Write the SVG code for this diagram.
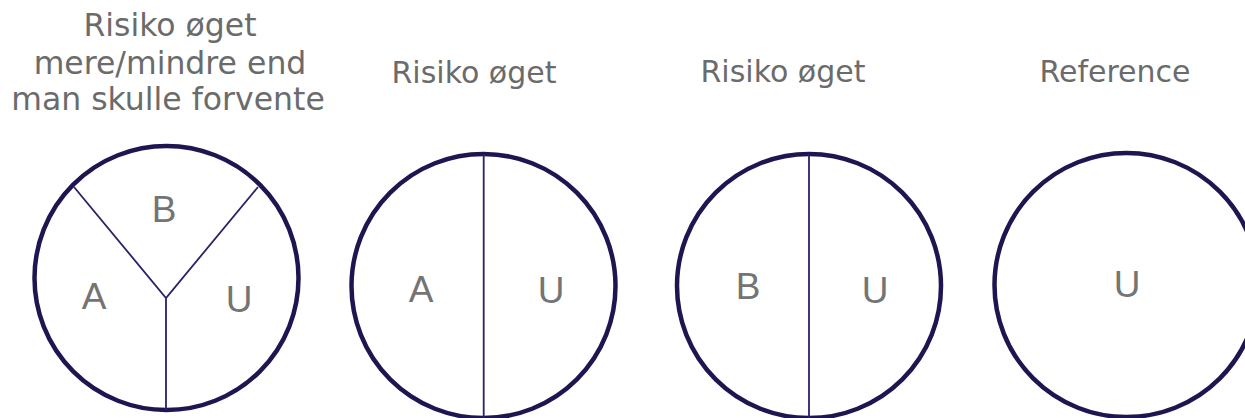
<svg xmlns="http://www.w3.org/2000/svg" width="1245" height="418" viewBox="0 0 1245 418">
<style>
.title{font-family:"DejaVu Sans",Verdana,sans-serif;font-size:30px;fill:#6b6b6b;text-anchor:middle}
.big{font-size:31.5px}
.lbl{font-family:"Liberation Sans",Arial,sans-serif;font-size:37px;fill:#747474;text-anchor:middle}
.ring{fill:#fff;stroke:#1e1650;stroke-width:4.5}
.div{stroke:#2a2266;stroke-width:1.8;fill:none}
</style>
<rect width="1245" height="418" fill="#fff"/>
<g id="t1">
<text class="title big" x="170" y="36">Risiko øget</text>
<text class="title big" x="170" y="74">mere/mindre end</text>
<text class="title big" x="168" y="110">man skulle forvente</text>
</g>
<g id="t2"><text class="title" x="474" y="83">Risiko øget</text></g>
<g id="t3"><text class="title" x="783" y="82">Risiko øget</text></g>
<g id="t4"><text class="title" x="1115" y="82">Reference</text></g>
<g id="c1">
<circle class="ring" cx="166.5" cy="278" r="132"/>
<text class="lbl" x="164" y="222">B</text>
<text class="lbl" x="94" y="309">A</text>
<text class="lbl" x="239" y="312">U</text>
</g>
<g id="c2">
<circle class="ring" cx="483.5" cy="286" r="132"/>
<text class="lbl" x="421" y="302">A</text>
<text class="lbl" x="551" y="303">U</text>
</g>
<g id="c3">
<circle class="ring" cx="809" cy="286" r="132"/>
<text class="lbl" x="748" y="299">B</text>
<text class="lbl" x="875" y="303">U</text>
</g>
<g id="c4">
<circle class="ring" cx="1126.5" cy="285" r="132"/>
<text class="lbl" x="1127" y="297">U</text>
</g>
<g id="connectors">
<path class="div" d="M74 187 L166 298 L258 187 M166 298 L166 410"/>
<path class="div" d="M483.7 154 L483.7 418"/>
<path class="div" d="M809 154 L809 418"/>
</g>
</svg>
